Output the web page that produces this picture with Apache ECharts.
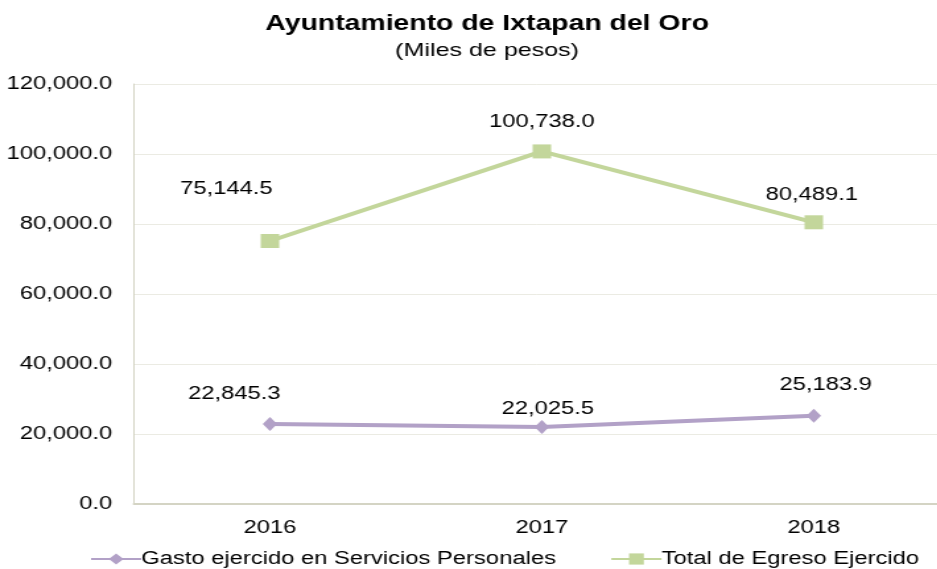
<!DOCTYPE html>
<html>
<head>
<meta charset="utf-8">
<script src="https://cdn.jsdelivr.net/npm/echarts@6/dist/echarts.min.js"></script>
<style>
  html, body { margin: 0; padding: 0; background: #fff; overflow: hidden; }
  /* the original picture is stretched sideways, so draw narrower and widen it */
  #chart { width: 710px; height: 569px; transform: scaleX(1.32); transform-origin: 0 0; }
</style>
</head>
<body>
<div id="chart"></div>
<script>
const years = ['2016', '2017', '2018']
const gastoServicios = [22845.3, 22025.5, 25183.9]
const totalEgreso = [75144.5, 100738.0, 80489.1]
const seriesNames = ['Gasto ejercido en Servicios Personales', 'Total de Egreso Ejercido']

// label nudges so the numbers sit where the original puts them
const gastoLabelOffsets = [[-27, -6], [4.5, 6], [9, -7]]
const totalLabelOffsets = [[-33, -28], [0, -5], [-1.5, -3]]

const fmt = v => v.toLocaleString('en-US', { minimumFractionDigits: 1, maximumFractionDigits: 1 })
const font = 'Liberation Sans, Arial, sans-serif'

function withLabels(values, offsets) {
  return values.map((v, i) => ({
    value: v,
    label: { offset: offsets[i] }
  }))
}

const labelStyle = {
  show: true, position: 'top', distance: 8,
  fontFamily: font, fontSize: 18, color: '#000',
  formatter: p => fmt(p.value)
}

const option = {
  backgroundColor: '#fff',
  title: {
    text: 'Ayuntamiento de Ixtapan del Oro',
    subtext: '(Miles de pesos)',
    left: 364,
    textAlign: 'center',
    top: 8,
    itemGap: 6,
    textStyle: { fontFamily: font, fontSize: 21.5, fontWeight: 'bold', color: '#000' },
    subtextStyle: { fontFamily: font, fontSize: 19, color: '#000' }
  },
  legend: {
    top: 545,
    left: 63,
    width: 700,
    itemGap: 41,
    itemWidth: 38,
    itemHeight: 14,
    textStyle: { fontFamily: font, fontSize: 18, color: '#000', padding: [0, 0, 0, -5] },
    data: seriesNames
  },
  grid: {
    left: 101.5,
    top: 84,
    width: 618,
    height: 420,
    outerBoundsMode: 'none'
  },
  xAxis: {
    type: 'category',
    data: years,
    boundaryGap: true,
    axisLine: { lineStyle: { color: '#d4d4c4', width: 2 } },
    axisTick: { show: false },
    axisLabel: { fontFamily: font, fontSize: 18, color: '#000', margin: 15 }
  },
  yAxis: {
    type: 'value',
    min: 0,
    max: 120000,
    interval: 20000,
    axisLine: { show: true, lineStyle: { color: '#d4d4c4', width: 1 } },
    axisTick: { show: false },
    splitLine: { lineStyle: { color: '#ebebe3', width: 1 } },
    axisLabel: {
      fontFamily: font, fontSize: 18, color: '#000', margin: 16.5,
      formatter: v => fmt(v)
    }
  },
  series: [
    {
      name: seriesNames[0],
      type: 'line',
      data: withLabels(gastoServicios, gastoLabelOffsets),
      symbol: 'diamond',
      symbolSize: [11, 14],
      lineStyle: { color: '#b2a1c7', width: 4 },
      itemStyle: { color: '#b2a1c7' },
      label: labelStyle
    },
    {
      name: seriesNames[1],
      type: 'line',
      data: withLabels(totalEgreso, totalLabelOffsets),
      symbol: 'rect',
      symbolSize: 14,
      lineStyle: { color: '#c3d69b', width: 4 },
      itemStyle: { color: '#c3d69b' },
      label: labelStyle
    }
  ]
}

const chart = echarts.init(document.getElementById('chart'))
chart.setOption(option)
</script>
</body>
</html>
